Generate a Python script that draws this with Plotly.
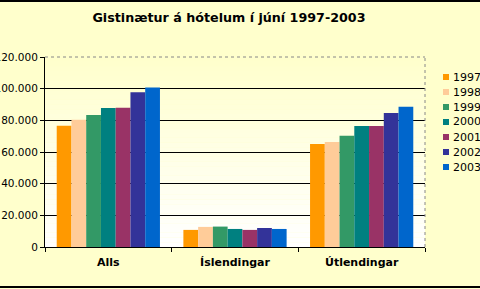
import plotly.graph_objects as go

categories = ["Alls", "Íslendingar", "Útlendingar"]
years = ["1997", "1998", "1999", "2000", "2001", "2002", "2003"]
alls = [76600, 80400, 83300, 87800, 88000, 97700, 100800]
islendingar = [10800, 12700, 12900, 11400, 10800, 12000, 11400]
utlendingar = [65000, 66300, 70300, 76400, 76400, 84600, 88600]
colors = ["#FF9900", "#FFCC99", "#339966", "#008080", "#993366", "#333399", "#0066CC"]
y_ticks = [0, 20000, 40000, 60000, 80000, 100000, 120000]

W, H = 480, 289
L, R, T, B = 45, 55, 57, 42
PW, PH = W - L - R, H - T - B


def px_x(x):
    return (x - L) / PW


def px_y(y):
    return (H - B - y) / PH


fig = go.Figure()
for i, yr in enumerate(years):
    fig.add_trace(go.Bar(
        x=categories,
        y=[alls[i], islendingar[i], utlendingar[i]],
        name=yr,
        marker=dict(color=colors[i], line=dict(width=0)),
        showlegend=False,
    ))

shapes = []
# gradient plot background
n = 40
top = (255, 255, 204)
bot = (255, 255, 255)
for k in range(n):
    t = k / (n - 1)
    c = tuple(round(top[j] + (bot[j] - top[j]) * t) for j in range(3))
    shapes.append(dict(type="rect", xref="x domain", yref="y domain",
                       x0=0, x1=1, y0=1 - (k + 1) / n, y1=1 - k / n,
                       fillcolor="rgb(%d,%d,%d)" % c, line=dict(width=0), layer="below"))
# dotted plot border (top & right)
shapes.append(dict(type="line", xref="x domain", yref="y domain", x0=0, x1=1, y0=1, y1=1,
                   line=dict(color="#888888", width=1, dash="dot")))
shapes.append(dict(type="line", xref="x domain", yref="y domain", x0=1, x1=1, y0=0, y1=1,
                   line=dict(color="#888888", width=1, dash="dot")))
# chart frame lines top and bottom
shapes.append(dict(type="line", xref="paper", yref="paper", x0=px_x(-5), x1=px_x(W + 5),
                   y0=px_y(1), y1=px_y(1), line=dict(color="black", width=2)))
shapes.append(dict(type="line", xref="paper", yref="paper", x0=px_x(-5), x1=px_x(W + 5),
                   y0=px_y(287), y1=px_y(287), line=dict(color="black", width=2)))

annotations = []
for i, yr in enumerate(years):
    yc = 77 + 15 * i
    shapes.append(dict(type="rect", xref="paper", yref="paper",
                       x0=px_x(443), x1=px_x(449), y0=px_y(yc + 3), y1=px_y(yc - 3),
                       fillcolor=colors[i], line=dict(width=0)))
    annotations.append(dict(text=yr, xref="paper", yref="paper", x=px_x(451), y=px_y(yc),
                            xanchor="left", yanchor="middle", showarrow=False,
                            font=dict(size=11, color="black", family="DejaVu Sans")))

fig.update_layout(
    width=W, height=H,
    margin=dict(l=L, r=R, t=T, b=B, pad=0),
    paper_bgcolor="#FFFFCC",
    plot_bgcolor="rgba(0,0,0,0)",
    separators=",.",
    font=dict(family="DejaVu Sans", color="black"),
    title=dict(text="<b>Gistinætur á hótelum í júní 1997-2003</b>",
               x=0.477, xanchor="center", y=1 - 18 / H, yanchor="middle",
               font=dict(size=12.7, color="black", family="DejaVu Sans")),
    barmode="group", bargap=0.185, bargroupgap=0,
    shapes=shapes, annotations=annotations,
    xaxis=dict(showline=True, linecolor="black", linewidth=1, ticks="outside",
               tickson="boundaries", ticklen=4, tickcolor="black", showgrid=False,
               tickfont=dict(size=11, family="DejaVu Sans"), ticklabelstandoff=5,
               ticktext=["<b>%s</b>" % c for c in categories], tickvals=categories,
               automargin=False),
    yaxis=dict(range=[0, 120000], tickvals=y_ticks, tickformat=",", showline=True,
               linecolor="black", linewidth=1, ticks="outside", ticklen=4,
               tickcolor="black", showgrid=True, gridcolor="black", gridwidth=1,
               zeroline=False, tickfont=dict(size=10.5, family="DejaVu Sans"),
               automargin=False),
)

fig.write_html("out.html")
